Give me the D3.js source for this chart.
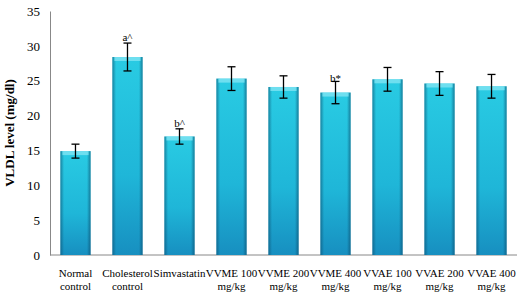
<!DOCTYPE html>
<html>
<head>
<meta charset="utf-8">
<script src="https://cdn.jsdelivr.net/npm/d3@7"></script>
<style>
  body { margin: 0; background: #fff; }
  text { font-family: "Liberation Serif", "Times New Roman", serif; }
</style>
</head>
<body>
<svg id="chart" width="524" height="299"></svg>
<script>
// Data
const groups = [
  ["Normal", "control"], ["Cholesterol", "control"], ["Simvastatin"],
  ["VVME 100", "mg/kg"], ["VVME 200", "mg/kg"], ["VVME 400", "mg/kg"],
  ["VVAE 100", "mg/kg"], ["VVAE 200", "mg/kg"], ["VVAE 400", "mg/kg"]
];
const means = [14.9, 28.4, 17.0, 25.3, 24.1, 23.3, 25.2, 24.6, 24.2];
const errors = [1.0, 2.0, 1.1, 1.7, 1.6, 1.6, 1.7, 1.7, 1.7];
const marks = ["", "a^", "b^", "", "", "b*", "", "", ""];
const yTicks = [0, 5, 10, 15, 20, 25, 30, 35];

const margin = { top: 11, right: 7, bottom: 44, left: 50 };
const width = 524 - margin.left - margin.right;
const height = 299 - margin.top - margin.bottom;

const svg = d3.select("#chart");

// Bar gradients: vertical body + darker edges
const defs = svg.append("defs");
const vg = defs.append("linearGradient").attr("id", "vg")
    .attr("x1", 0).attr("y1", 0).attr("x2", 0).attr("y2", 1);
vg.append("stop").attr("offset", "0%").attr("stop-color", "#29cbe3");
vg.append("stop").attr("offset", "60%").attr("stop-color", "#1fb6d8");
vg.append("stop").attr("offset", "100%").attr("stop-color", "#178fc0");
const hg = defs.append("linearGradient").attr("id", "hg")
    .attr("x1", 0).attr("y1", 0).attr("x2", 1).attr("y2", 0);
hg.append("stop").attr("offset", "0%").attr("stop-color", "#0a4a6a").attr("stop-opacity", 0.55);
hg.append("stop").attr("offset", "12%").attr("stop-color", "#0a4a6a").attr("stop-opacity", 0);
hg.append("stop").attr("offset", "88%").attr("stop-color", "#0a4a6a").attr("stop-opacity", 0);
hg.append("stop").attr("offset", "100%").attr("stop-color", "#0a4a6a").attr("stop-opacity", 0.6);

const g = svg.append("g")
    .attr("transform", `translate(${margin.left},${margin.top})`);

const x = d3.scaleBand()
    .domain(d3.range(groups.length))
    .range([0, width])
    .paddingInner(0.42)
    .paddingOuter(0.2);

const y = d3.scaleLinear()
    .domain([0, 35])
    .range([height, 0]);

// Y axis (no tick marks)
const yAxis = g.append("g")
    .call(d3.axisLeft(y).tickValues(yTicks).tickSize(0).tickPadding(10));
yAxis.select(".domain").attr("stroke", "#888");
yAxis.selectAll("text")
    .attr("font-size", 13)
    .attr("font-family", "Liberation Serif, serif")
    .attr("fill", "#000");

// X axis line
g.append("line")
    .attr("x1", 0).attr("x2", width)
    .attr("y1", y(0)).attr("y2", y(0))
    .attr("stroke", "#888");

// Bars
const bars = g.selectAll(".bar")
    .data(means)
  .join("g")
    .attr("class", "bar");

bars.append("rect")
    .attr("x", (d, i) => x(i))
    .attr("y", d => y(d))
    .attr("width", x.bandwidth())
    .attr("height", d => y(0) - y(d))
    .attr("fill", "url(#vg)");

bars.append("rect")
    .attr("x", (d, i) => x(i))
    .attr("y", d => y(d))
    .attr("width", x.bandwidth())
    .attr("height", d => y(0) - y(d))
    .attr("fill", "url(#hg)");

// Top bevel highlight
bars.append("rect")
    .attr("x", (d, i) => x(i) + 2)
    .attr("y", d => y(d))
    .attr("width", x.bandwidth() - 4)
    .attr("height", 4)
    .attr("fill", "#7fe3f2")
    .attr("opacity", 0.8);

// Error bars
const capW = 4;
const eb = g.selectAll(".err")
    .data(means)
  .join("g")
    .attr("class", "err")
    .attr("stroke", "#000")
    .attr("stroke-width", 1.3);

eb.append("line")
    .attr("x1", (d, i) => x(i) + x.bandwidth() / 2)
    .attr("x2", (d, i) => x(i) + x.bandwidth() / 2)
    .attr("y1", (d, i) => y(d + errors[i]))
    .attr("y2", (d, i) => y(d - errors[i]));
eb.append("line")
    .attr("x1", (d, i) => x(i) + x.bandwidth() / 2 - capW)
    .attr("x2", (d, i) => x(i) + x.bandwidth() / 2 + capW)
    .attr("y1", (d, i) => y(d + errors[i]))
    .attr("y2", (d, i) => y(d + errors[i]));
eb.append("line")
    .attr("x1", (d, i) => x(i) + x.bandwidth() / 2 - capW)
    .attr("x2", (d, i) => x(i) + x.bandwidth() / 2 + capW)
    .attr("y1", (d, i) => y(d - errors[i]))
    .attr("y2", (d, i) => y(d - errors[i]));

// Significance marks
g.selectAll(".mark")
    .data(marks)
  .join("text")
    .attr("class", "mark")
    .attr("x", (d, i) => x(i) + x.bandwidth() / 2)
    .attr("y", (d, i) => y(means[i] + errors[i]) - (i === 5 ? -1 : 2))
    .attr("text-anchor", "middle")
    .attr("font-family", "Liberation Sans, Arial, sans-serif")
    .attr("font-size", 11)
    .text(d => d);

// Category labels
const labels = g.selectAll(".xlab")
    .data(groups)
  .join("text")
    .attr("class", "xlab")
    .attr("text-anchor", "middle")
    .attr("font-size", 11)
    .attr("transform", (d, i) => `translate(${x(i) + x.bandwidth() / 2},${height + 22})`);
labels.selectAll("tspan")
    .data(d => d)
  .join("tspan")
    .attr("x", 0)
    .attr("dy", (d, j) => j === 0 ? 0 : 13)
    .text(d => d);

// Y axis title
svg.append("text")
    .attr("transform", `translate(14,${margin.top + height / 2}) rotate(-90)`)
    .attr("text-anchor", "middle")
    .attr("font-weight", "bold")
    .attr("font-size", 13)
    .text("VLDL level (mg/dl)");
</script>
</body>
</html>
